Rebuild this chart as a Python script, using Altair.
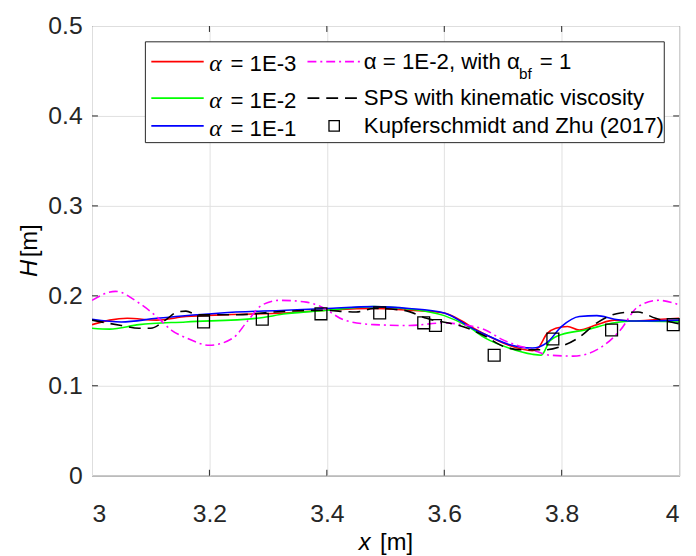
import altair as alt
import pandas as pd

# ---------------- data ----------------
x_red = [3.00, 3.03, 3.06, 3.11, 3.16, 3.23, 3.33, 3.40, 3.48, 3.54, 3.60, 3.63, 3.65, 3.67,
         3.71, 3.75, 3.76, 3.775, 3.79, 3.81, 3.83, 3.86, 3.89, 3.92, 3.97, 4.00]
h_red = [0.168, 0.173, 0.175, 0.173, 0.177, 0.179, 0.181, 0.184, 0.186, 0.184, 0.181, 0.172, 0.164, 0.157,
         0.145, 0.139, 0.142, 0.158, 0.164, 0.166, 0.162, 0.168, 0.173, 0.172, 0.174, 0.175]

x_green = [3.00, 3.03, 3.08, 3.16, 3.28, 3.33, 3.40, 3.48, 3.53, 3.60, 3.64, 3.67, 3.71, 3.75,
           3.765, 3.78, 3.80, 3.84, 3.89, 3.92, 4.00]
h_green = [0.164, 0.163, 0.168, 0.171, 0.175, 0.180, 0.184, 0.188, 0.186, 0.178, 0.166, 0.153, 0.142, 0.135,
           0.134, 0.150, 0.157, 0.162, 0.170, 0.172, 0.171]

x_blue = [3.00, 3.05, 3.11, 3.22, 3.33, 3.40, 3.48, 3.54, 3.60, 3.65, 3.67, 3.71, 3.75, 3.775,
          3.80, 3.83, 3.86, 3.89, 3.92, 4.00]
h_blue = [0.174, 0.171, 0.175, 0.181, 0.184, 0.186, 0.188, 0.186, 0.181, 0.163, 0.157, 0.146, 0.142, 0.148,
          0.166, 0.177, 0.178, 0.174, 0.172, 0.173]

x_mag = [3.00, 3.04, 3.08, 3.11, 3.135, 3.165, 3.20, 3.24, 3.265, 3.29, 3.32, 3.365, 3.39, 3.43, 3.48,
         3.54, 3.60, 3.63, 3.67, 3.70, 3.75, 3.78, 3.82, 3.87, 3.90, 3.93, 3.965, 4.00]
h_mag = [0.195, 0.205, 0.192, 0.177, 0.162, 0.152, 0.145, 0.153, 0.172, 0.190, 0.195, 0.193, 0.188, 0.173, 0.168,
         0.167, 0.170, 0.168, 0.162, 0.151, 0.140, 0.134, 0.133, 0.144, 0.162, 0.188, 0.195, 0.190]

x_sps = [3.00, 3.05, 3.08, 3.10, 3.125, 3.145, 3.16, 3.18, 3.25, 3.31, 3.39, 3.45, 3.48, 3.53, 3.57,
         3.64, 3.67, 3.70, 3.73, 3.77, 3.80, 3.83, 3.86, 3.90, 3.93, 3.96, 4.00]
h_sps = [0.173, 0.167, 0.164, 0.164, 0.173, 0.182, 0.183, 0.179, 0.179, 0.182, 0.184, 0.182, 0.186, 0.184, 0.175,
         0.164, 0.155, 0.144, 0.140, 0.140, 0.144, 0.154, 0.170, 0.181, 0.182, 0.175, 0.169]

x_exp = [3.19, 3.29, 3.39, 3.49, 3.565, 3.585, 3.685, 3.785, 3.885, 3.99]
h_exp = [0.171, 0.174, 0.180, 0.181, 0.170, 0.167, 0.134, 0.152, 0.162, 0.168]

x_ticks = [3, 3.2, 3.4, 3.6, 3.8, 4]
y_ticks = [0, 0.1, 0.2, 0.3, 0.4, 0.5]

W, H = 594, 455
SANS = "Liberation Sans"
TXT = "#000000"
AX = "#262626"
LFS = 22.5

X = alt.X("x:Q", scale=alt.Scale(domain=[3, 4], nice=False, zero=False),
          axis=alt.Axis(values=x_ticks, format="~g", title=None, grid=True, ticks=False,
                        tickSize=0, labelPadding=26, domain=False))
Y = alt.Y("H:Q", scale=alt.Scale(domain=[0, 0.5], nice=False, zero=False),
          axis=alt.Axis(values=y_ticks, format="~g", title=None, grid=True, ticks=False,
                        tickSize=0, labelPadding=10, domain=False))


def line(xs, hs, color, dash=None):
    df = pd.DataFrame({"x": xs, "H": hs})
    kw = dict(color=color, strokeWidth=1.6, interpolate="monotone", clip=True)
    if dash:
        kw["strokeDash"] = dash
    return alt.Chart(df).mark_line(**kw).encode(x=X, y=Y)


one = pd.DataFrame({"a": [0]})


def txt(s, x, y, size=LFS, font=SANS, style="normal", align="left", baseline="alphabetic", angle=0):
    return alt.Chart(one).mark_text(text=s, fontSize=size, font=font, fontStyle=style, align=align,
                                    baseline=baseline, angle=angle, color=TXT).encode(
        x=alt.value(x), y=alt.value(y))


def lrule(x1, x2, y, color, dash=None):
    kw = dict(color=color, strokeWidth=1.6)
    if dash:
        kw["strokeDash"] = dash
    return alt.Chart(one).mark_rule(**kw).encode(x=alt.value(x1), x2=alt.value(x2), y=alt.value(y))


DASH_MAG = [9, 4, 2, 4]
DASH_SPS = [12, 7]

red = line(x_red, h_red, "#ff0000")
green = line(x_green, h_green, "#00ff00")
blue = line(x_blue, h_blue, "#0000ff")
mag = line(x_mag, h_mag, "#ff00ff", DASH_MAG)
sps = line(x_sps, h_sps, "#000000", DASH_SPS)
exp = alt.Chart(pd.DataFrame({"x": x_exp, "H": h_exp})).mark_point(
    shape="square", filled=False, size=144, color="#000000", strokeWidth=1.3, opacity=1).encode(x=X, y=Y)

# inward ticks
xt = pd.DataFrame({"x": x_ticks[1:-1]})
yt = pd.DataFrame({"H": y_ticks[1:-1]})
tick_b = alt.Chart(xt).mark_rule(color=AX, strokeWidth=1).encode(x=X, y=alt.value(H), y2=alt.value(H - 6))
tick_t = alt.Chart(xt).mark_rule(color=AX, strokeWidth=1).encode(x=X, y=alt.value(0), y2=alt.value(6))
tick_l = alt.Chart(yt).mark_rule(color=AX, strokeWidth=1).encode(y=Y, x=alt.value(0), x2=alt.value(6))
tick_r = alt.Chart(yt).mark_rule(color=AX, strokeWidth=1).encode(y=Y, x=alt.value(W), x2=alt.value(W - 6))

# legend
box = alt.Chart(one).mark_rect(fill="white", stroke=AX, strokeWidth=1).encode(
    x=alt.value(54), x2=alt.value(579), y=alt.value(16), y2=alt.value(118))

legend = [
    box,
    lrule(60, 113, 36, "#ff0000"),
    lrule(60, 113, 73, "#00ff00"),
    lrule(60, 113, 101, "#0000ff"),
    lrule(218, 272, 36, "#ff00ff", DASH_MAG),
    lrule(218, 272, 73, "#000000", DASH_SPS),
    alt.Chart(one).mark_point(shape="square", filled=False, size=110, color="#000000",
                              strokeWidth=1.3, opacity=1).encode(x=alt.value(245), y=alt.value(101)),
    txt("α", 118.5, 46, font="Liberation Serif", style="italic", size=24),
    txt("α", 118.5, 83, font="Liberation Serif", style="italic", size=24),
    txt("α", 118.5, 111, font="Liberation Serif", style="italic", size=24),
    txt("= 1E-3", 140, 46),
    txt("= 1E-2", 140, 83),
    txt("= 1E-1", 140, 111),
    txt("α = 1E-2, with α", 275, 43.5),
    txt("bf", 432, 53.5, size=15.5),
    txt("= 1", 453, 43.5),
    txt("SPS with kinematic viscosity", 275, 80),
    txt("Kupferschmidt and Zhu (2017)", 275, 108),
]

# axis titles
titles = [
    txt("x", 270, 530, size=24, style="italic"),
    txt("[m]", 291.5, 530, size=24),
    txt("H", -63, 254, size=24, style="italic", baseline="middle", angle=270),
    txt("[m]", -63, 234, size=24, baseline="middle", angle=270),
]

chart = alt.layer(
    red, green, blue, mag, sps, exp,
    tick_b, tick_t, tick_l, tick_r,
    *legend, *titles
).properties(
    width=W, height=H,
    background="white",
    autosize=alt.AutoSizeParams(type="none"),
    padding={"left": 85, "top": 15, "right": 9, "bottom": 78},
).configure_view(
    stroke=AX, strokeWidth=1
).configure_axis(
    labelFont=SANS, labelFontSize=25, labelColor=AX,
    gridColor="#e1e1e1", gridWidth=1, gridOpacity=1
)

chart.save("out.html", embed_options={"renderer": "svg", "actions": False})
